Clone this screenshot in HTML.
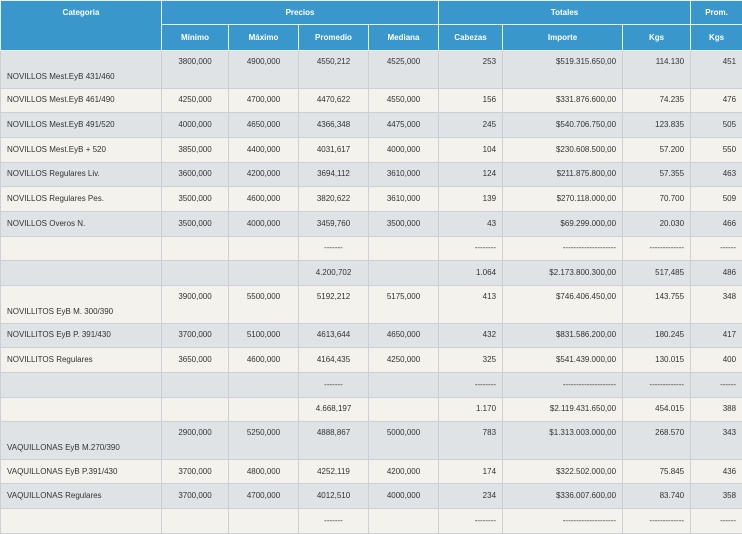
<!DOCTYPE html>
<html><head><meta charset="utf-8"><style>
body{margin:0;width:742px;height:531px;overflow:hidden;background:#f3f2ec;font-family:"Liberation Sans",sans-serif;}
table{border-collapse:collapse;table-layout:fixed;width:742px;font-size:8px;color:#333;}
td,th{padding:0 6px;border:1px solid #ccd0d4;white-space:nowrap;overflow:hidden;line-height:10px;}
th{background:#3a97cc;color:#fff;font-weight:bold;border-color:#e6f0f7;text-align:center;}
tr{height:24.7px;}
tr.h1{height:24px;}
tr.h2{height:26px;}
td{vertical-align:middle;}
tr.g td{background:#e0e3e6;}
tr.c td{background:#f3f2ec;}
tr.t{height:37.5px;}
tr.t td{vertical-align:top;padding-top:6px;}
tr.t td:first-child{vertical-align:bottom;padding-bottom:6px;padding-top:0;}
.c1{text-align:left;}
.n{text-align:center;}
.r{text-align:right;}
</style></head><body>
<table>
<colgroup><col style="width:161px"><col style="width:67px"><col style="width:70px"><col style="width:70px"><col style="width:70px"><col style="width:64px"><col style="width:120px"><col style="width:68px"><col style="width:52px"></colgroup>
<tr class="h1"><th rowspan="2" style="vertical-align:top;padding-top:7px">Categoria</th><th colspan="4">Precios</th><th colspan="3">Totales</th><th>Prom.</th></tr>
<tr class="h2"><th>Mínimo</th><th>Máximo</th><th>Promedio</th><th>Mediana</th><th>Cabezas</th><th>Importe</th><th>Kgs</th><th>Kgs</th></tr>
<tr class="g t"><td class="c1">NOVILLOS Mest.EyB 431/460</td><td class="n">3800,000</td><td class="n">4900,000</td><td class="n">4550,212</td><td class="n">4525,000</td><td class="r">253</td><td class="r">$519.315.650,00</td><td class="r">114.130</td><td class="r">451</td></tr>
<tr class="c"><td>NOVILLOS Mest.EyB 461/490</td><td class="n">4250,000</td><td class="n">4700,000</td><td class="n">4470,622</td><td class="n">4550,000</td><td class="r">156</td><td class="r">$331.876.600,00</td><td class="r">74.235</td><td class="r">476</td></tr>
<tr class="g"><td>NOVILLOS Mest.EyB 491/520</td><td class="n">4000,000</td><td class="n">4650,000</td><td class="n">4366,348</td><td class="n">4475,000</td><td class="r">245</td><td class="r">$540.706.750,00</td><td class="r">123.835</td><td class="r">505</td></tr>
<tr class="c"><td>NOVILLOS Mest.EyB + 520</td><td class="n">3850,000</td><td class="n">4400,000</td><td class="n">4031,617</td><td class="n">4000,000</td><td class="r">104</td><td class="r">$230.608.500,00</td><td class="r">57.200</td><td class="r">550</td></tr>
<tr class="g"><td>NOVILLOS Regulares Liv.</td><td class="n">3600,000</td><td class="n">4200,000</td><td class="n">3694,112</td><td class="n">3610,000</td><td class="r">124</td><td class="r">$211.875.800,00</td><td class="r">57.355</td><td class="r">463</td></tr>
<tr class="c"><td>NOVILLOS Regulares Pes.</td><td class="n">3500,000</td><td class="n">4600,000</td><td class="n">3820,622</td><td class="n">3610,000</td><td class="r">139</td><td class="r">$270.118.000,00</td><td class="r">70.700</td><td class="r">509</td></tr>
<tr class="g"><td>NOVILLOS Overos N.</td><td class="n">3500,000</td><td class="n">4000,000</td><td class="n">3459,760</td><td class="n">3500,000</td><td class="r">43</td><td class="r">$69.299.000,00</td><td class="r">20.030</td><td class="r">466</td></tr>
<tr class="c"><td></td><td></td><td></td><td class="n">-------</td><td></td><td class="r">--------</td><td class="r">--------------------</td><td class="r">-------------</td><td class="r">------</td></tr>
<tr class="g"><td></td><td></td><td></td><td class="n">4.200,702</td><td></td><td class="r">1.064</td><td class="r">$2.173.800.300,00</td><td class="r">517,485</td><td class="r">486</td></tr>
<tr class="c t"><td class="c1">NOVILLITOS EyB M. 300/390</td><td class="n">3900,000</td><td class="n">5500,000</td><td class="n">5192,212</td><td class="n">5175,000</td><td class="r">413</td><td class="r">$746.406.450,00</td><td class="r">143.755</td><td class="r">348</td></tr>
<tr class="g"><td>NOVILLITOS EyB P. 391/430</td><td class="n">3700,000</td><td class="n">5100,000</td><td class="n">4613,644</td><td class="n">4650,000</td><td class="r">432</td><td class="r">$831.586.200,00</td><td class="r">180.245</td><td class="r">417</td></tr>
<tr class="c"><td>NOVILLITOS Regulares</td><td class="n">3650,000</td><td class="n">4600,000</td><td class="n">4164,435</td><td class="n">4250,000</td><td class="r">325</td><td class="r">$541.439.000,00</td><td class="r">130.015</td><td class="r">400</td></tr>
<tr class="g"><td></td><td></td><td></td><td class="n">-------</td><td></td><td class="r">--------</td><td class="r">--------------------</td><td class="r">-------------</td><td class="r">------</td></tr>
<tr class="c"><td></td><td></td><td></td><td class="n">4.668,197</td><td></td><td class="r">1.170</td><td class="r">$2.119.431.650,00</td><td class="r">454.015</td><td class="r">388</td></tr>
<tr class="g t"><td class="c1">VAQUILLONAS EyB M.270/390</td><td class="n">2900,000</td><td class="n">5250,000</td><td class="n">4888,867</td><td class="n">5000,000</td><td class="r">783</td><td class="r">$1.313.003.000,00</td><td class="r">268.570</td><td class="r">343</td></tr>
<tr class="c"><td>VAQUILLONAS EyB P.391/430</td><td class="n">3700,000</td><td class="n">4800,000</td><td class="n">4252,119</td><td class="n">4200,000</td><td class="r">174</td><td class="r">$322.502.000,00</td><td class="r">75.845</td><td class="r">436</td></tr>
<tr class="g"><td>VAQUILLONAS Regulares</td><td class="n">3700,000</td><td class="n">4700,000</td><td class="n">4012,510</td><td class="n">4000,000</td><td class="r">234</td><td class="r">$336.007.600,00</td><td class="r">83.740</td><td class="r">358</td></tr>
<tr class="c"><td></td><td></td><td></td><td class="n">-------</td><td></td><td class="r">--------</td><td class="r">--------------------</td><td class="r">-------------</td><td class="r">------</td></tr>
</table>
</body></html>
